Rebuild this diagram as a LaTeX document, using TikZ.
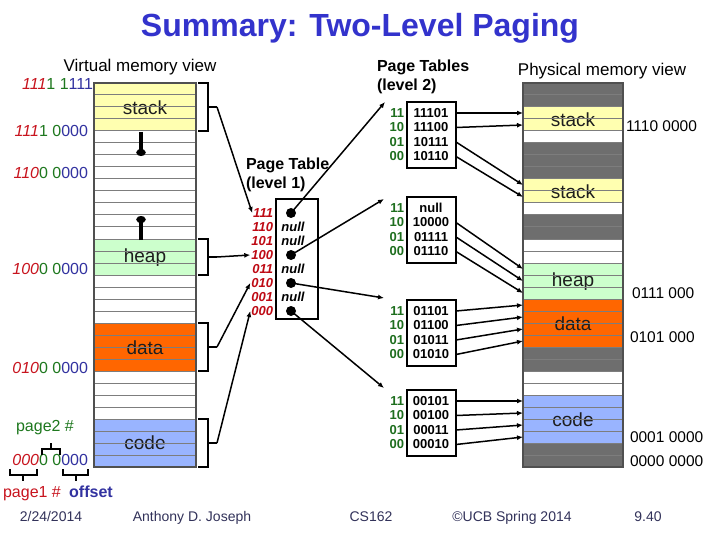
\documentclass[tikz,border=0pt]{standalone}
\usepackage{fontspec}
\setmainfont{Liberation Sans}
\usetikzlibrary{arrows.meta}
\definecolor{titleblue}{RGB}{51,51,204}
\definecolor{vred}{RGB}{200,20,30}
\definecolor{vgreen}{RGB}{30,120,30}
\definecolor{vblue}{RGB}{50,50,160}
\definecolor{stackc}{RGB}{255,255,176}
\definecolor{heapc}{RGB}{204,255,204}
\definecolor{datac}{RGB}{255,102,0}
\definecolor{codec}{RGB}{153,180,255}
\definecolor{pgray}{RGB}{110,110,110}
\definecolor{gridc}{RGB}{125,125,125}
\definecolor{colborder}{RGB}{80,80,80}
\definecolor{l1red}{RGB}{190,10,20}
\definecolor{l2green}{RGB}{30,110,30}
\definecolor{footc}{RGB}{50,50,90}
\definecolor{regtxt}{RGB}{30,30,30}
\newcommand\pxsize[1]{\fontsize{#1}{#1}\selectfont}
\newcommand\vaddr[3]{\textcolor{vred}{\itshape #1}\textcolor{vgreen}{#2}\textcolor{vblue}{#3}}
\begin{document}
\begin{tikzpicture}[x=1pt,y=-1pt,
  every node/.style={inner sep=0pt, outer sep=0pt},
  memrow/.style={minimum width=102pt, minimum height=12pt, draw=none},
  gridline/.style={draw=gridc, line width=1pt},
  colframe/.style={draw=colborder, line width=2pt},
  regtext/.style={font=\pxsize{19}, text=regtxt},
  brk/.style={draw=black, line width=2.2pt},
  conn/.style={draw=black, line width=1.5pt, -{Latex[length=6pt,width=5pt]}},
  growarrow/.style={draw=black, line width=4pt, -{Ellipse[length=7pt,width=9pt]}},
  addrlab/.style={font=\pxsize{16}, anchor=east},
  l1lab/.style={font=\pxsize{13}\bfseries\itshape, text=l1red, anchor=east, inner sep=1pt},
  nulltxt/.style={font=\pxsize{13}\bfseries\itshape},
  dot/.style={circle, fill=black, minimum size=10pt},
  l2box/.style={draw=black, line width=1.5pt, minimum width=49pt, minimum height=66pt},
  l2lab/.style={font=\pxsize{13}\bfseries, text=l2green, anchor=east},
  l2val/.style={font=\pxsize{13}\bfseries},
  plab/.style={font=\pxsize{15.5}, anchor=west},
  foot/.style={font=\pxsize{14}, text=footc, anchor=base}
]
\fill[white] (0,0) rectangle (720,540);
\useasboundingbox (0,0) rectangle (720,540);

% title
\node[font=\pxsize{32}\bfseries, text=titleblue] (title) at (360,28) {Summary: Two-Level Paging};

% virtual memory column
\node[font=\pxsize{17}] (vmtitle) at (140,67) {Virtual memory view};
\foreach \r/\c in {0/stackc,1/stackc,2/stackc,3/stackc,4/white,5/white,6/white,7/white,8/white,9/white,10/white,11/white,12/white,13/heapc,14/heapc,15/heapc,16/white,17/white,18/white,19/white,20/datac,21/datac,22/datac,23/datac,24/white,25/white,26/white,27/white,28/codec,29/codec,30/codec,31/codec}
  \node[memrow, fill=\c] (v\r) at (145,{89+12*\r}) {};
\node[regtext] (vstack) at (145,108) {stack};
\node[regtext] (vheap) at (145,258) {heap};
\node[regtext] (vdata) at (145,348) {data};
\node[regtext] (vcode) at (145,443) {code};
\foreach \k in {1,...,31} \draw[gridline] (94,{83+12*\k}) -- (196,{83+12*\k});
\draw[colframe] (94,83) rectangle (196,467);
\draw[growarrow] (141,132) -- (141,156);
\draw[growarrow] (141,240) -- (141,216);

% physical memory column
\node[font=\pxsize{17}] (pmtitle) at (602,71) {Physical memory view};
\foreach \r/\c in {0/pgray,1/pgray,2/stackc,3/stackc,4/white,5/pgray,6/pgray,7/pgray,8/stackc,9/stackc,10/white,11/pgray,12/pgray,13/white,14/white,15/heapc,16/heapc,17/heapc,18/datac,19/datac,20/datac,21/datac,22/pgray,23/pgray,24/white,25/white,26/codec,27/codec,28/codec,29/codec,30/pgray,31/pgray}
  \node[memrow, minimum width=100pt, fill=\c] (p\r) at (573,{89+12*\r}) {};
\node[regtext] (pstacka) at (573,120) {stack};
\node[regtext] (pstackb) at (573,192) {stack};
\node[regtext] (pheap) at (573,282) {heap};
\node[regtext] (pdata) at (573,324) {data};
\node[regtext] (pcode) at (573,420) {code};
\foreach \k in {1,...,31} \draw[gridline] (523,{83+12*\k}) -- (623,{83+12*\k});
\draw[colframe] (523,83) rectangle (623,467);

\node[plab] (pa1) at (626,126) {1110 0000};
\node[plab] (pa2) at (632,293) {0111 000};
\node[plab] (pa3) at (630,337) {0101 000};
\node[plab] (pa4) at (630,437) {0001 0000};
\node[plab] (pa5) at (630,461) {0000 0000};

% virtual address labels
\node[addrlab] (va1) at (93,84) {\vaddr{111}{1 1}{111}};
\node[addrlab] (va2) at (88,131) {\vaddr{111}{1 0}{000}};
\node[addrlab] (va3) at (88,173) {\vaddr{110}{0 0}{000}};
\node[addrlab] (va4) at (88,269) {\vaddr{100}{0 0}{000}};
\node[addrlab] (va5) at (88,368) {\vaddr{010}{0 0}{000}};
\node[addrlab] (va6) at (88,460) {\vaddr{000}{0 0}{000}};
\node[font=\pxsize{16}, text=vgreen] (pg2) at (45,428) {page2 \#};
\node[font=\pxsize{16}, text=vred, anchor=base] (pg1) at (32,497) {page1 \#};
\node[font=\pxsize{16}\bfseries, text=vblue, anchor=base] (offs) at (91,497) {offset};
\draw[brk, line width=2pt] (42,455) -- (42,449) -- (60,449) -- (60,455) (51,449) -- (51,443);
\draw[brk, line width=2pt] (10,469) -- (10,475) -- (37,475) -- (37,469) (23,475) -- (23,481);
\draw[brk, line width=2pt] (63,469) -- (63,475) -- (88,475) -- (88,469) (76,475) -- (76,481);

% brackets on the virtual column
\draw[brk] (198,83) -- (208,83) -- (208,131) -- (198,131) (208,107) -- (217,107);
\coordinate (bstack) at (217,107);
\draw[brk] (198,239) -- (208,239) -- (208,275) -- (198,275) (208,257) -- (217,257);
\coordinate (bheap) at (217,257);
\draw[brk] (198,323) -- (208,323) -- (208,371) -- (198,371) (208,347) -- (217,347);
\coordinate (bdata) at (217,347);
\draw[brk] (198,419) -- (208,419) -- (208,467) -- (198,467) (208,443) -- (217,443);
\coordinate (bcode) at (217,443);

% page table level 1
\node[font=\pxsize{16}\bfseries, align=left, anchor=north west] (l1title) at (246,158) {Page Table\\[3pt](level 1)};
\node[draw=black, line width=1.5pt, minimum width=42pt, minimum height=120pt] (l1) at (297,259) {};
\foreach \k/\lab in {0/111,1/110,2/101,3/100,4/011,5/010,6/001,7/000}
  \node[l1lab] (e\lab) at (274,{213+14*\k}) {\lab};
\node[dot] (d111) at (291,213) {};
\node[nulltxt] (n110) at (293,227) {null};
\node[nulltxt] (n101) at (293,241) {null};
\node[dot] (d100) at (291,255) {};
\node[nulltxt] (n011) at (293,269) {null};
\node[dot] (d010) at (291,283) {};
\node[nulltxt] (n001) at (293,297) {null};
\node[dot] (d000) at (291,311) {};

\draw[conn] (bstack) -- (e111.west);
\draw[conn] (bheap) -- (e100.west);
\draw[conn] (bdata) -- (e010.west);
\draw[conn] (bcode) -- (e000.west);

% page tables level 2
\node[font=\pxsize{16}\bfseries, align=left, anchor=north west] (l2title) at (377,60) {Page Tables\\[3pt](level 2)};
\newcommand\ltwo[6]{%
  \node[l2box] (#1) at (431.5,{#2+33}) {};
  \node[l2lab] at (404,{#2+11}) {11};
  \node[l2lab] at (404,{#2+25.5}) {10};
  \node[l2lab] at (404,{#2+40}) {01};
  \node[l2lab] at (404,{#2+54.5}) {00};
  \node[l2val] (#1a) at (431,{#2+11}) {#3};
  \node[l2val] (#1b) at (431,{#2+25.5}) {#4};
  \node[l2val] (#1c) at (431,{#2+40}) {#5};
  \node[l2val] (#1d) at (431,{#2+54.5}) {#6};
}
\ltwo{ta}{102}{11101}{11100}{10111}{10110}
\ltwo{tb}{197}{null}{10000}{01111}{01110}
\ltwo{tc}{300}{01101}{01100}{01011}{01010}
\ltwo{td}{390}{00101}{00100}{00011}{00010}

\coordinate (tain) at (385,102);
\coordinate (tbin) at (384,199);
\coordinate (tcin) at (384,298);
\coordinate (tdin) at (384,388);
\draw[conn] (d111.center) -- (tain);
\draw[conn] (d100.center) -- (tbin);
\draw[conn] (d010.center) -- (tcin);
\draw[conn] (d000.center) -- (tdin);

% level 2 to physical
\draw[conn] (taa -| ta.east) -- (p2.west);
\draw[conn] (tab -| ta.east) -- (p3.west);
\draw[conn] (tac -| ta.east) -- (p8.west);
\draw[conn] (tad -| ta.east) -- (p9.west);
\draw[conn] (tbb -| tb.east) -- (p15.west);
\draw[conn] (tbc -| tb.east) -- (p16.west);
\draw[conn] (tbd -| tb.east) -- (p17.west);
\draw[conn] (tca -| tc.east) -- (p18.west);
\draw[conn] (tcb -| tc.east) -- (p19.west);
\draw[conn] (tcc -| tc.east) -- (p20.west);
\draw[conn] (tcd -| tc.east) -- (p21.west);
\draw[conn] (tda -| td.east) -- (p26.west);
\draw[conn] (tdb -| td.east) -- (p27.west);
\draw[conn] (tdc -| td.east) -- (p28.west);
\draw[conn] (tdd -| td.east) -- (p29.west);

% footer
\node[foot] (f1) at (51,521) {2/24/2014};
\node[foot] (f2) at (192,521) {Anthony D. Joseph};
\node[foot] (f3) at (371,521) {CS162};
\node[foot] (f4) at (512,521) {©UCB Spring 2014};
\node[foot] (f5) at (648,521) {9.40};
\end{tikzpicture}
\end{document}
